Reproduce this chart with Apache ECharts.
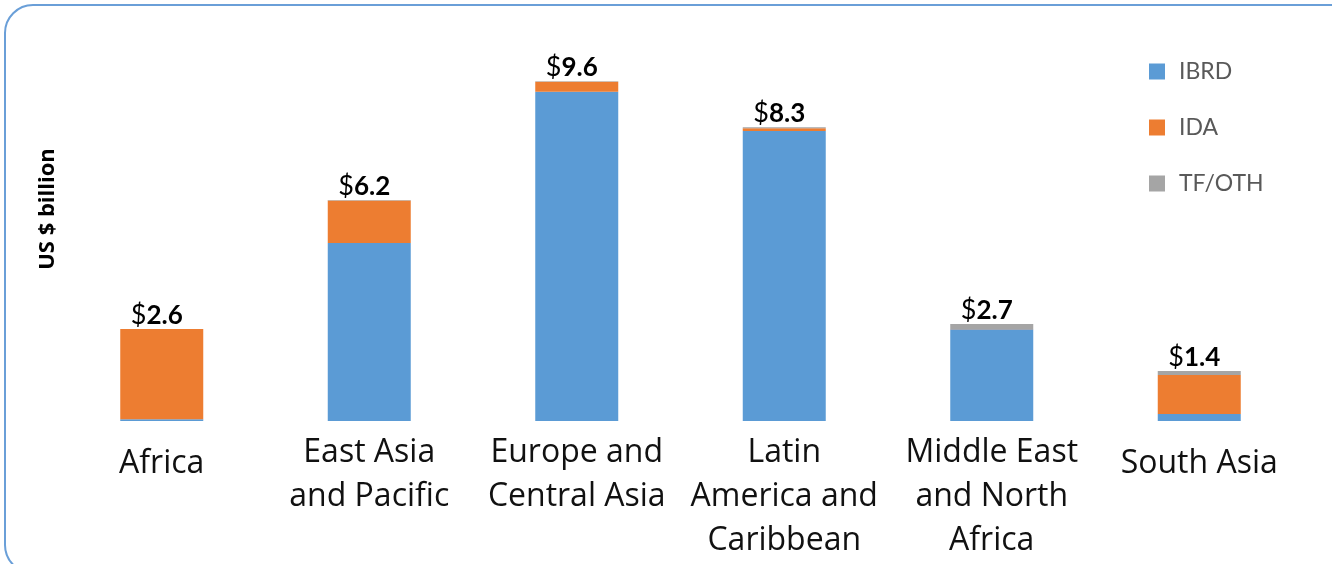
<!DOCTYPE html>
<html>
<head>
<meta charset="utf-8">
<script src="https://cdn.jsdelivr.net/npm/echarts@6/dist/echarts.min.js"></script>
<style>
  html, body { margin: 0; padding: 0; background: #fff; }
  #chart { width: 1332px; height: 564px; }
</style>
</head>
<body>
<div id="chart"></div>
<script>
var regions = ['Africa', 'East Asia\nand Pacific', 'Europe and\nCentral Asia', 'Latin\nAmerica and\nCaribbean', 'Middle East\nand North\nAfrica', 'South Asia'];
var ibrd = [0.05, 5.03, 9.30, 8.19, 2.59, 0.20];
var ida = [2.55, 1.20, 0.28, 0.08, 0.01, 1.10];
var tfOth = [0.00, 0.01, 0.02, 0.03, 0.14, 0.11];
var totalLabels = ['2.6', '6.2', '9.6', '8.3', '2.7', '1.4'];

var chart = echarts.init(document.getElementById('chart'));
var font = 'Lato, "Open Sans", sans-serif';
var axisFont = '"Open Sans", Lato, sans-serif';

var option = {
  animation: false,
  textStyle: { fontFamily: font },
  grid: { left: 58, right: 29, top: 67, bottom: 143 },
  legend: {
    orient: 'vertical',
    left: 1149,
    top: 60,
    padding: 0,
    itemWidth: 16,
    itemHeight: 16,
    itemGap: 33,
    icon: 'rect',
    textStyle: { fontSize: 23, color: '#595959', lineHeight: 22, padding: [0, 0, 0, 9], fontFamily: font },
    data: ['IBRD', 'IDA', 'TF/OTH']
  },
  xAxis: {
    type: 'category',
    data: regions,
    axisLine: { show: false },
    axisTick: { show: false },
    axisLabel: {
      interval: 0,
      margin: 10,
      fontSize: 32,
      lineHeight: 44,
      color: '#111',
      fontFamily: axisFont,
      formatter: function (v) {
        return v.indexOf('\n') < 0 ? '{one|' + v + '}' : v;
      },
      rich: {
        one: { fontSize: 32, lineHeight: 44, padding: [22, 0, 0, 0], color: '#111', fontFamily: axisFont }
      }
    }
  },
  yAxis: {
    type: 'value',
    min: 0,
    max: 10,
    show: false,
    splitLine: { show: false }
  },
  graphic: [
    {
      type: 'rect',
      shape: { x: 5, y: 5, width: 1360, height: 568, r: 28 },
      style: { fill: 'none', stroke: '#6a9fd8', lineWidth: 2 },
      silent: true
    },
    {
      type: 'text',
      x: 48,
      y: 209,
      rotation: Math.PI / 2,
      style: {
        text: 'US $ billion',
        fontSize: 22,
        fontWeight: 'bold',
        fill: '#000',
        fontFamily: axisFont,
        align: 'center',
        verticalAlign: 'middle'
      }
    }
  ],
  series: [
    { name: 'IBRD', type: 'bar', stack: 'all', barWidth: 83, data: ibrd, itemStyle: { color: '#5b9bd5' } },
    { name: 'IDA', type: 'bar', stack: 'all', barWidth: 83, data: ida, itemStyle: { color: '#ed7d31' } },
    {
      name: 'TF/OTH', type: 'bar', stack: 'all', barWidth: 83, data: tfOth,
      itemStyle: { color: '#a5a5a5' },
      label: {
        show: true,
        position: 'top',
        distance: 0,
        offset: [-5, 0],
        formatter: function (p) { return '{n|$}{b|' + totalLabels[p.dataIndex] + '}'; },
        rich: {
          n: { fontSize: 27, color: '#000', fontFamily: font },
          b: { fontSize: 26, fontWeight: 'bold', color: '#000', fontFamily: font }
        }
      }
    }
  ]
};

chart.setOption(option);
</script>
</body>
</html>
